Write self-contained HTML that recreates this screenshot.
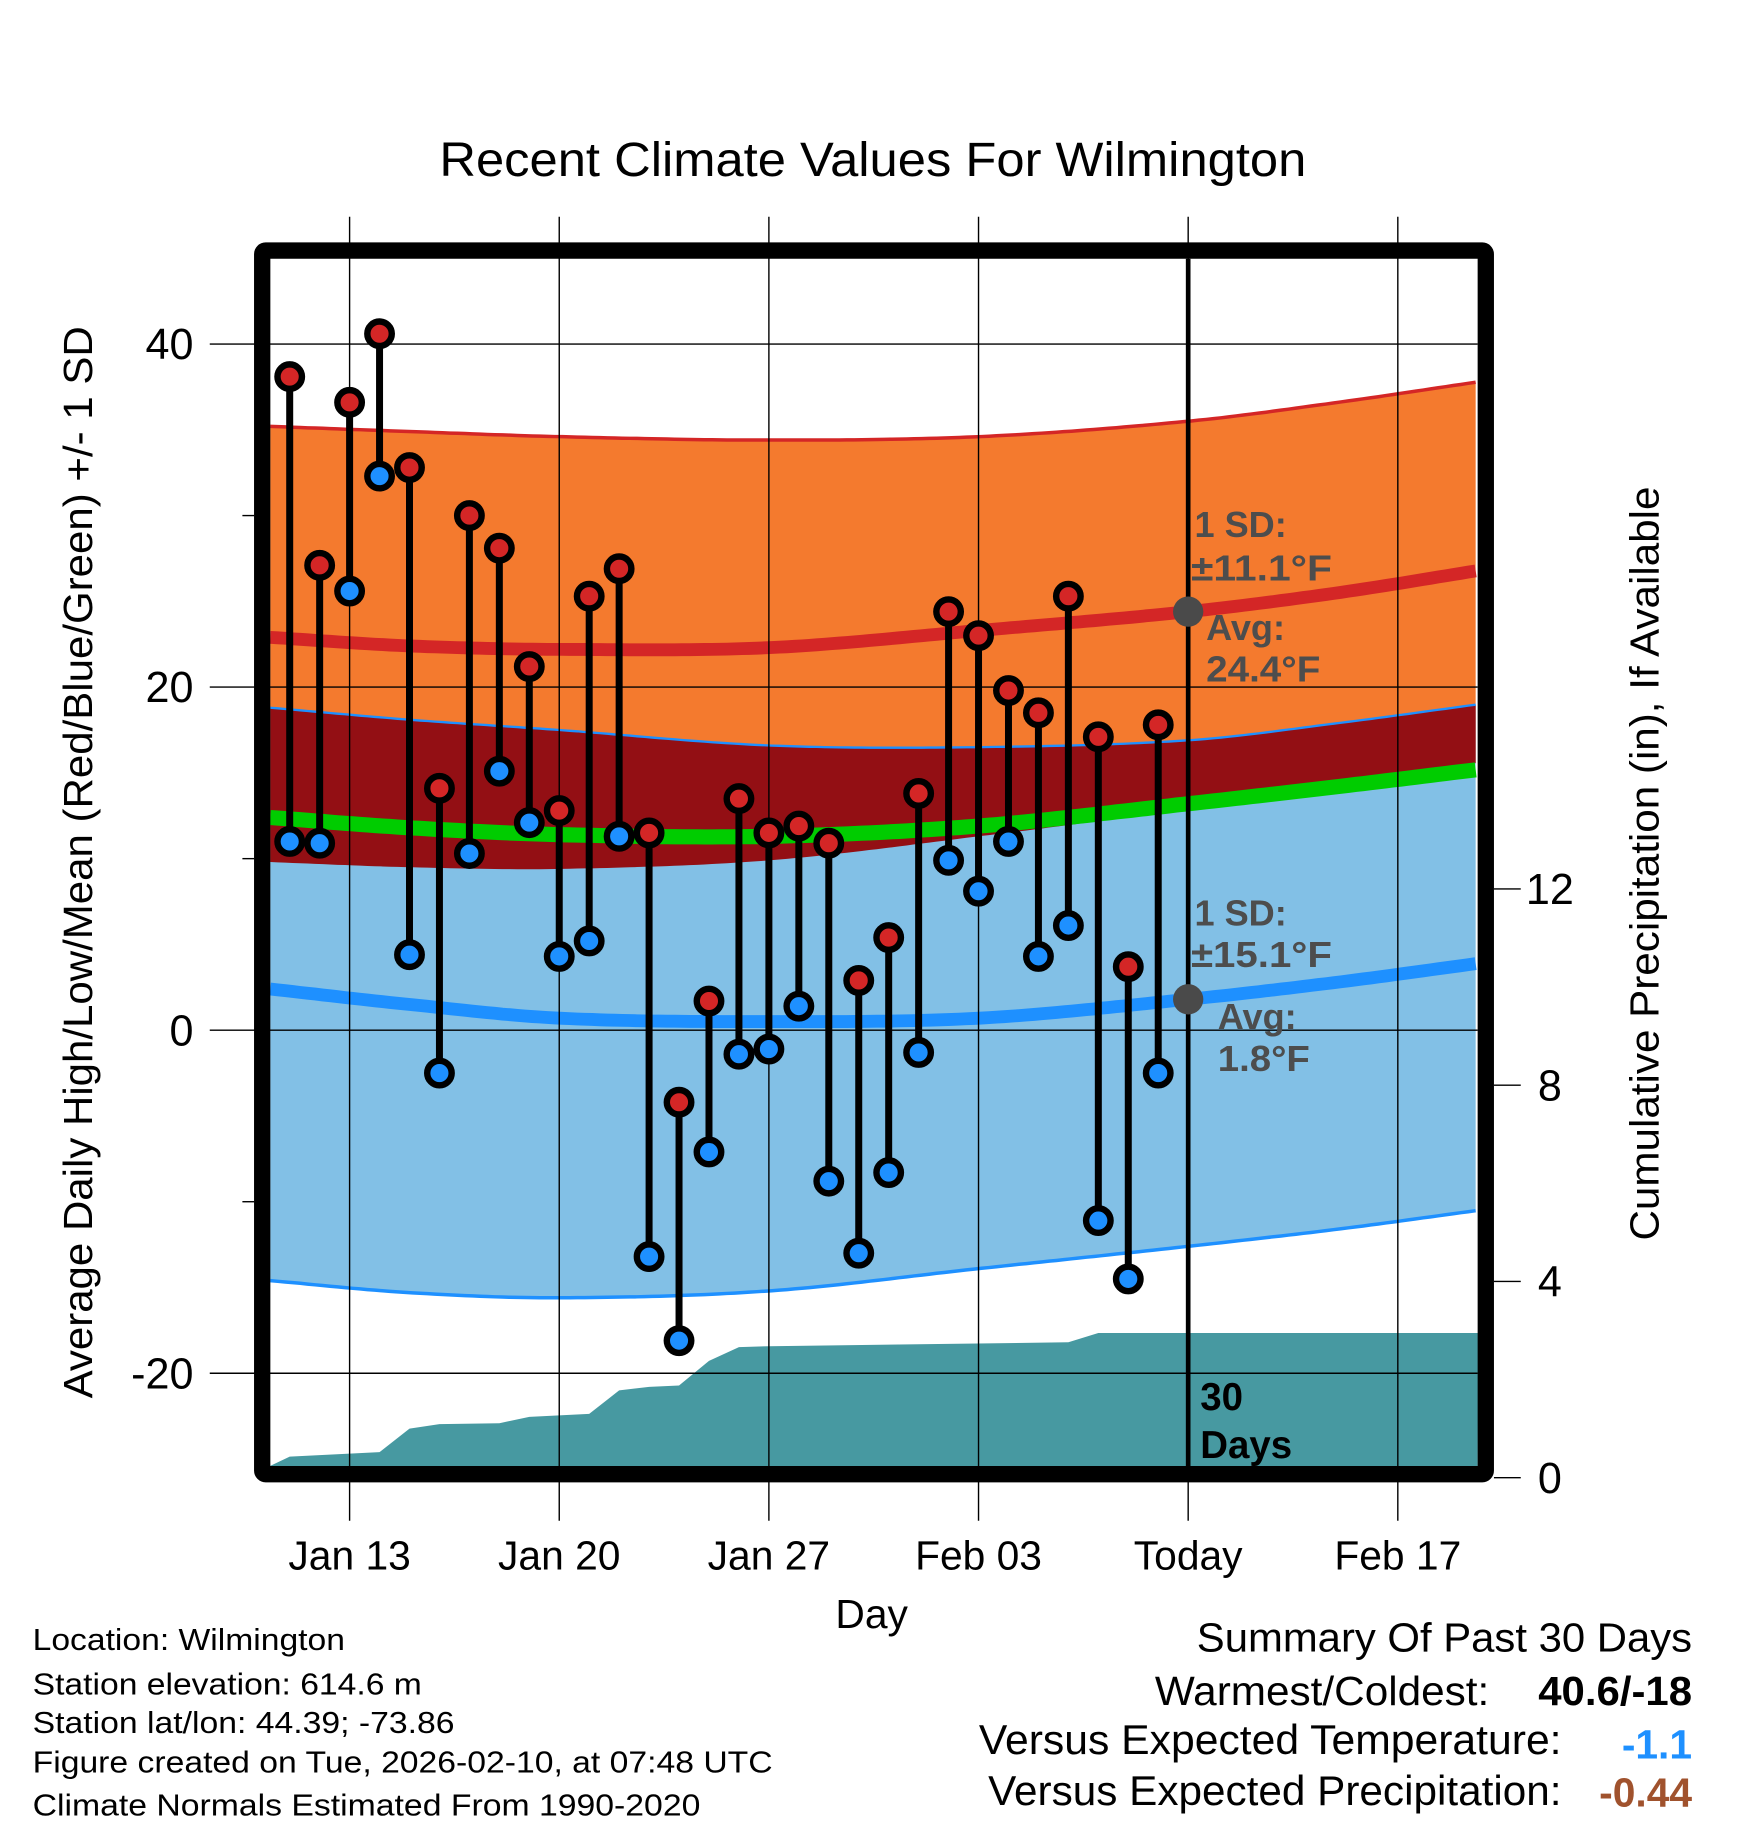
<!DOCTYPE html>
<html><head><meta charset="utf-8"><style>
html,body{margin:0;padding:0;background:#fff;}
svg{display:block;font-family:"Liberation Sans",sans-serif;}
</style></head><body>
<svg id="chart" width="1748" height="1828" viewBox="0 0 1500 1568.6" xmlns="http://www.w3.org/2000/svg">
<g id="bands"></g><g id="grid"></g><g id="marks"></g><g id="labels"></g>
</svg>
<script>
// ---- data ----
const dayLabels = ["Jan 13","Jan 20","Jan 27","Feb 03","Today","Feb 17"];
const dayLabelIdx = [2,9,16,23,30,37];
const highs = [38.1,27.1,36.6,40.6,32.8,14.1,30.0,28.1,21.2,12.8,25.3,26.9,11.5,-4.2,1.7,13.5,11.5,11.9,10.9,2.9,5.4,13.8,24.4,23.0,19.8,18.5,25.3,17.1,3.7,17.8];
const lows  = [11.0,10.9,25.6,32.3,4.4,-2.5,10.3,15.1,12.1,4.3,5.2,11.3,-13.2,-18.1,-7.1,-1.4,-1.1,1.4,-8.8,-13.0,-8.3,-1.3,9.9,8.1,11.0,4.3,6.1,-11.1,-14.5,-2.5];
const normDays   = [-0.65,4,9,16,23,30,35,39.7];
const highMean   = [22.9,22.4,22.2,22.3,23.3,24.4,25.5,26.8];
const highUpper  = [35.2,34.9,34.6,34.4,34.6,35.5,36.6,37.8];
const highLower  = [9.8,9.5,9.4,9.9,11.3,12.9,14.3,15.6];
const lowMean    = [2.4,1.5,0.7,0.5,0.7,1.8,2.8,3.9];
const lowUpper   = [18.8,18.1,17.5,16.6,16.5,16.9,17.9,19.0];
const lowLower   = [-14.6,-15.3,-15.6,-15.2,-13.9,-12.6,-11.6,-10.5];
const avgMean    = [12.4,11.8,11.4,11.3,11.9,13.2,14.2,15.2];
const precDays   = [-0.65,0,3,4,5,7,8,10,11,12,13,14,15,16,26,27,39.7];
const precCum    = [0.24,0.43,0.52,1.0,1.09,1.11,1.24,1.30,1.78,1.85,1.88,2.38,2.66,2.68,2.76,2.95,2.95];
const tempTicks = [40,20,0,-20];
const precTicks = [0,4,8,12];

// ---- scales ----
const X0=232,X1=1268,Y0=222,Y1=1258;
const x = d => 248.6 + d*25.7;
const y = t => 884 - t*14.72;
const yp = p => 1268 - p*42.1;
const NS="http://www.w3.org/2000/svg";
function mk(tag, attrs, parent, text){const e=document.createElementNS(NS,tag);for(const k in attrs)e.setAttribute(k,attrs[k]);if(text!==undefined)e.textContent=text;parent.appendChild(e);return e;}
function interp(ds,vs,d){
  // monotone-ish smooth (cosine-blended cardinal) interpolation between points
  for(let i=0;i<ds.length-1;i++){if(d<=ds[i+1]){
    const h=ds[i+1]-ds[i],f=(d-ds[i])/h;
    const m0=i>0?(vs[i+1]-vs[i-1])/(ds[i+1]-ds[i-1]):(vs[i+1]-vs[i])/h;
    const m1=i<ds.length-2?(vs[i+2]-vs[i])/(ds[i+2]-ds[i]):(vs[i+1]-vs[i])/h;
    const f2=f*f,f3=f2*f;
    return (2*f3-3*f2+1)*vs[i]+(f3-2*f2+f)*h*m0+(-2*f3+3*f2)*vs[i+1]+(f3-f2)*h*m1;}}
  return vs[vs.length-1];}
const samples=[];for(let d=-0.65;d<=39.71;d+=0.25)samples.push(d);
function line(arr){return samples.map(d=>x(d).toFixed(1)+","+y(interp(normDays,arr,d)).toFixed(1)).join(" ");}
function band(top,bot){return line(top)+" "+samples.slice().reverse().map(d=>x(d).toFixed(1)+","+y(interp(normDays,bot,d)).toFixed(1)).join(" ");}
const bands=document.getElementById('bands'),grid=document.getElementById('grid'),marks=document.getElementById('marks'),labels=document.getElementById('labels');

let e;
e=mk('polygon',{points:band(highUpper,highLower),fill:'#f47a2e'},bands);


e=mk('polygon',{points:band(lowUpper,lowLower),fill:'#82c0e6'},bands);


const minTop=highLower.map((v,i)=>Math.min(v,lowUpper[i]));
e=mk('polygon',{points:band(lowUpper,minTop),fill:'#930f14'},bands);


e=mk('polyline',{points:line(highUpper),fill:'none',stroke:'#d42626','stroke-width':3},bands);


e=mk('polyline',{points:line(lowUpper),fill:'none',stroke:'#1e90ff','stroke-width':2},bands);


e=mk('polyline',{points:line(lowLower),fill:'none',stroke:'#1e90ff','stroke-width':3},bands);


e=mk('polyline',{points:line(avgMean),fill:'none',stroke:'#00cc00','stroke-width':13},bands);


e=mk('polyline',{points:line(highMean),fill:'none',stroke:'#d42626','stroke-width':11},bands);


e=mk('polyline',{points:line(lowMean),fill:'none',stroke:'#1e90ff','stroke-width':11},bands);


// precipitation
let pp=x(precDays[0]).toFixed(1)+","+Y1+" ";
precDays.forEach((d,i)=>{pp+=x(d).toFixed(1)+","+yp(precCum[i]).toFixed(1)+" ";});
pp+=X1+","+Y1;
e=mk('polygon',{points:pp,fill:'#4799a1'},bands);



// grid
tempTicks.forEach(t=>{
  e=mk('line',{x1:180,x2:X1,y1:y(t),y2:y(t),stroke:'#000','stroke-width':1.2},grid);
  
  
  e=mk('text',{x:166,y:y(t)+13,'font-size':37,'text-anchor':'end'},labels,String(t));
  
  
});
[30,10,-10].forEach(t=>{mk('line',{x1:208,x2:218,y1:y(t),y2:y(t),stroke:'#000','stroke-width':1.2},grid);});
dayLabelIdx.forEach((d,i)=>{
  e=mk('line',{x1:x(d),x2:x(d),y1:186,y2:1305,stroke:'#000','stroke-width':1.2},grid);
  
  
  e=mk('text',{x:x(d),y:1347,'font-size':35,'text-anchor':'middle'},labels,dayLabels[i]);
  
  
});
precTicks.forEach(p=>{
  mk('line',{x1:1282,x2:1305,y1:yp(p),y2:yp(p),stroke:'#000','stroke-width':1.2},grid);
  e=mk('text',{x:1330,y:yp(p)+13,'font-size':37,'text-anchor':'middle'},labels,String(p));
  
  
});
// today line
e=mk('line',{x1:x(30),x2:x(30),y1:Y0,y2:Y1,stroke:'#000','stroke-width':4},grid);


// frame
e=mk('rect',{x:225,y:215,width:1050,height:1050,fill:'none',stroke:'#000','stroke-width':14,rx:3},grid);



// daily marks
highs.forEach((h,i)=>{
  const cx=x(i);
  e=mk('line',{x1:cx,x2:cx,y1:y(h),y2:y(lows[i]),stroke:'#000','stroke-width':6},marks);
  
  
});
highs.forEach((h,i)=>{
  const cx=x(i);
  e=mk('circle',{cx:cx,cy:y(lows[i]),r:10.5,fill:'#1e90ff',stroke:'#000','stroke-width':5.5},marks);
  
  
  e=mk('circle',{cx:cx,cy:y(h),r:10.5,fill:'#d42626',stroke:'#000','stroke-width':5.5},marks);
  
  
});
// today normal dots
e=mk('circle',{cx:x(30),cy:y(interp(normDays,highMean,30)),r:13,fill:'#4a4a4a'},marks);


e=mk('circle',{cx:x(30),cy:y(interp(normDays,lowMean,30)),r:13,fill:'#4a4a4a'},marks);


</script>
<script>
// static labels
(function(){
const L=document.getElementById('labels');const NS="http://www.w3.org/2000/svg";
function t(name,txt,a){const e=document.createElementNS(NS,'text');for(const k in a)e.setAttribute(k,a[k]);e.textContent=txt;


L.appendChild(e);return e;}
t('chart-title','Recent Climate Values For Wilmington',{x:749,y:151,'font-size':41,'text-anchor':'middle',textLength:744,lengthAdjust:'spacingAndGlyphs'});
t('x-axis-title','Day',{x:748,y:1397,'font-size':35,'text-anchor':'middle'});
t('y-axis-title','Average Daily High/Low/Mean (Red/Blue/Green) +/- 1 SD',{x:0,y:0,'font-size':35,'text-anchor':'middle',textLength:920,lengthAdjust:'spacingAndGlyphs',transform:'translate(79,740) rotate(-90)'});
t('y2-axis-title','Cumulative Precipitation (in), If Available',{x:0,y:0,'font-size':35,'text-anchor':'middle',textLength:647,lengthAdjust:'spacingAndGlyphs',transform:'translate(1423,741) rotate(-90)'});
const g={fill:'#4d4d4d','font-size':31,'font-weight':'bold'};
t('high-sd-label','1 SD:',Object.assign({x:1025,y:461},g));
t('high-sd-value','±11.1°F',Object.assign({x:1022,y:498,textLength:121,lengthAdjust:'spacingAndGlyphs'},g));
t('high-avg-label','Avg:',Object.assign({x:1035,y:549},g));
t('high-avg-value','24.4°F',Object.assign({x:1035,y:585,textLength:98,lengthAdjust:'spacingAndGlyphs'},g));
t('low-sd-label','1 SD:',Object.assign({x:1025,y:794},g));
t('low-sd-value','±15.1°F',Object.assign({x:1022,y:830,textLength:121,lengthAdjust:'spacingAndGlyphs'},g));
t('low-avg-label','Avg:',Object.assign({x:1045,y:883},g));
t('low-avg-value','1.8°F',Object.assign({x:1045,y:919,textLength:79,lengthAdjust:'spacingAndGlyphs'},g));
t('days-count','30',{x:1030,y:1210,'font-size':33,'font-weight':'bold'});
t('days-label','Days',{x:1030,y:1251,'font-size':33,'font-weight':'bold'});
const info=[['location-info','Location: Wilmington',1416,268],['elevation-info','Station elevation: 614.6 m',1454,334],['latlon-info','Station lat/lon: 44.39; -73.86',1487,362],['created-info','Figure created on Tue, 2026-02-10, at 07:48 UTC',1521,635],['normals-info','Climate Normals Estimated From 1990-2020',1558,573]];
info.forEach(r=>t(r[0],r[1],{x:28,y:r[2],'font-size':26,textLength:r[3],lengthAdjust:'spacingAndGlyphs'}));
t('summary-title','Summary Of Past 30 Days',{x:1452,y:1417,'font-size':35,'text-anchor':'end',textLength:425,lengthAdjust:'spacingAndGlyphs'});
t('warmest-label','Warmest/Coldest:',{x:1278,y:1463,'font-size':35,'text-anchor':'end',textLength:287,lengthAdjust:'spacingAndGlyphs'});
t('warmest-value','40.6/-18',{x:1452,y:1463,'font-size':35,'font-weight':'bold','text-anchor':'end',textLength:132,lengthAdjust:'spacingAndGlyphs'});
t('temp-vs-label','Versus Expected Temperature:',{x:1340,y:1505,'font-size':36,'text-anchor':'end',textLength:500,lengthAdjust:'spacingAndGlyphs'});
t('temp-vs-value','-1.1',{x:1452,y:1509,'font-size':35,'font-weight':'bold','text-anchor':'end',fill:'#1e90ff'});
t('precip-vs-label','Versus Expected Precipitation:',{x:1340,y:1549,'font-size':36,'text-anchor':'end',textLength:492,lengthAdjust:'spacingAndGlyphs'});
t('precip-vs-value','-0.44',{x:1452,y:1550,'font-size':35,'font-weight':'bold','text-anchor':'end',fill:'#a0522d'});
})();
</script>
</body></html>
